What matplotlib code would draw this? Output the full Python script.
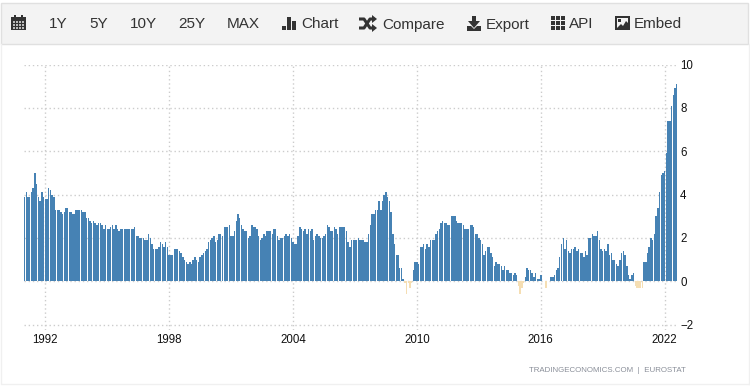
import matplotlib
matplotlib.use('Agg')
import matplotlib.pyplot as plt
import matplotlib.dates as mdates
from matplotlib.patches import Rectangle, Polygon
import numpy as np
import pandas as pd

vals_91_98 = [3.9,4.1,3.9,3.9,4.1,4.3,5.0,4.5,3.9,3.7,4.1,3.9,3.8,3.8,4.3,4.2,4.0,3.9,3.3,3.3,3.3,3.2,3.1,3.2,3.4,3.4,3.2,3.2,3.1,3.1,
              3.3,3.3,3.3,3.3,3.2,3.2,2.9,2.9,2.8,2.7,2.8,2.7,2.6,2.7,2.7,2.6,2.4,2.6,2.4,2.4,2.5,2.6,2.4,2.6,2.4,2.3,2.4,2.4,2.4,2.4,
              2.4,2.4,2.4,2.4,2.5,2.1,2.1,2.0,2.0,2.0,1.9,1.9,2.2,2.0,1.7,1.5,1.5,1.5,1.6,1.8,1.7,1.6,1.8,1.6,1.2,1.2,1.2,1.5,1.5,1.5,
              1.4,1.3,1.1,1.0]
vals_98_06 = [0.9,0.8,0.9,0.8,1.0,1.1,1.0,0.9,1.1,1.2,1.3,1.4,1.5,1.8,1.9,2.0,2.1,1.8,1.9,2.2,2.2,2.1,2.5,2.5,2.5,2.6,2.1,2.1,2.3,2.8,
              3.1,2.9,2.6,2.4,2.3,2.3,2.0,2.1,2.6,2.5,2.5,2.4,2.1,1.9,2.0,2.2,2.1,2.3,2.3,2.3,2.2,2.4,2.4,2.1,1.9,2.0,2.0,2.1,2.2,2.1,
              2.2,2.0,1.8,1.7,1.7,2.1,2.5,2.4,2.3,2.4,2.2,2.4,2.3,2.4,1.9,2.1,2.2,2.1,2.0,2.0,2.1,2.2,2.6,2.5,2.3,2.3,2.5,2.4,2.2,
              2.5,2.5,2.5,2.5,2.3,1.8,1.6]
vals_06_15 = [1.9,1.9,1.9,1.9,2.0,1.9,1.9,1.9,1.8,1.8,2.2,2.6,3.1,3.1,3.3,3.3,3.7,3.3,3.7,4.0,4.1,3.9,3.7,3.2,2.2,1.7,1.2,1.2,0.6,0.6,
              0.1,-0.1,-0.6,-0.1,-0.3,-0.1,0.5,0.9,0.9,0.8,1.6,1.6,1.7,1.5,1.7,1.6,1.9,1.9,1.9,2.2,2.3,2.4,2.7,2.8,2.7,2.7,2.6,2.6,3.0,3.0,
              3.0,2.8,2.7,2.7,2.7,2.6,2.4,2.4,2.4,2.6,2.6,2.5,2.2,2.2,2.0,1.9,1.7,1.2,1.4,1.6,1.6,1.3,1.1,0.7,0.9,0.8,0.8,0.7,0.5,0.7,
              0.5,0.5,0.4,0.4,0.3,0.4,0.3,-0.2,-0.6]
vals_15_22 = [-0.3,-0.1,0.2,0.6,0.5,0.5,0.4,0.2,0.4,0.1,0.1,0.3,0.0,0.0,-0.3,0.0,0.0,0.2,0.2,0.3,0.5,0.6,1.1,1.7,2.0,1.5,1.9,1.4,1.3,1.5,
              1.5,1.6,1.4,1.5,1.3,1.3,1.1,1.4,1.2,2.0,2.0,2.2,2.1,2.1,2.3,1.9,1.5,1.4,1.5,1.4,1.7,1.2,1.3,1.0,1.0,0.8,0.7,1.0,1.3,1.4,
              1.2,0.7,0.3,0.1,0.3,0.4,-0.2,-0.3,-0.3,-0.3,-0.3,0.9,0.9,1.3,1.6,2.0,1.9,2.2,3.0,3.4,4.1,4.9,5.0,5.1,5.9,7.4,7.4,8.1,8.6,8.9,9.1]
values = np.array(vals_91_98 + vals_98_06 + vals_06_15 + vals_15_22)

months = pd.date_range('1991-01-01', periods=len(values), freq='MS')
year_ticks = [1992, 1998, 2004, 2010, 2016, 2022]
y_ticks = [-2, 0, 2, 4, 6, 8, 10]
menu_labels = ['1Y', '5Y', '10Y', '25Y', 'MAX', 'Chart', 'Compare', 'Export', 'API', 'Embed']
menu_x = [49, 89, 130, 178, 227, 301, 382, 486, 569, 634]

plt.rcParams['font.family'] = ['Liberation Sans', 'DejaVu Sans']
W, H = 750, 386
fig = plt.figure(figsize=(7.5, 3.86), dpi=100)

ax = fig.add_axes([24 / W, (H - 330) / H, 654 / W, (330 - 64.5) / H])
colors = ['#4682b4' if v >= 0 else '#f5deb3' for v in values]
ax.bar(months, values, width=26, color=colors, linewidth=0, antialiased=False, zorder=3)
d0 = mdates.date2num(pd.Timestamp('1992-01-01'))
d1 = mdates.date2num(pd.Timestamp('2022-01-01'))
days_per_px = (d1 - d0) / (664.7 - 45.3)
ax.set_xlim(d0 - (45.3 - 24) * days_per_px, d0 + (678 - 45.3) * days_per_px)
ax.set_ylim(-2.25, 10)
ax.set_xticks([pd.Timestamp(str(y) + '-01-01') for y in year_ticks])
ax.set_xticklabels([str(y) for y in year_ticks])
ax.set_yticks(y_ticks)
ax.yaxis.tick_right()
ax.tick_params(axis='both', length=0, labelsize=8.3, colors='#111111')
ax.tick_params(axis='x', pad=3)
ax.tick_params(axis='y', pad=1.5)
ax.grid(True, linestyle=(0, (1, 2)), color='#cccccc', linewidth=1)
ax.set_axisbelow(True)
for s in ax.spines.values():
    s.set_visible(False)

# page furniture in pixel coordinates
top = fig.add_axes([0, 0, 1, 1], zorder=5)
top.set_xlim(0, W)
top.set_ylim(H, 0)
top.axis('off')
top.patch.set_alpha(0)
top.add_patch(Rectangle((1, 3), 747, 41, facecolor='#f3f3f3', edgecolor='#e0e0e0', linewidth=1))
top.plot([1, 1, 749], [44, 384, 384], color='#f0f0f0', linewidth=1)
top.plot([749, 749], [44, 384], color='#f0f0f0', linewidth=1)
for lab, x in zip(menu_labels, menu_x):
    top.text(x, 24.5, lab, fontsize=11, color='#333333', ha='left', va='center')
top.text(686, 370, 'TRADINGECONOMICS.COM  |  EUROSTAT', fontsize=5.7, color='#8a8f99', ha='right', va='center')

ic = '#333333'
# calendar
top.add_patch(Rectangle((11, 17), 15, 13, color=ic, linewidth=0))
top.add_patch(Rectangle((14, 15), 2, 3, color=ic, linewidth=0))
top.add_patch(Rectangle((21, 15), 2, 3, color=ic, linewidth=0))
for cx in [13, 16, 19, 22]:
    for cy in [21, 24, 27]:
        top.add_patch(Rectangle((cx, cy), 2, 2, color='#bbbbbb', linewidth=0))
# bars
for bx, by in [(282, 26), (287, 17), (292, 21)]:
    top.add_patch(Rectangle((bx, by), 4, 30 - by, color=ic, linewidth=0))
# shuffle
top.plot([359, 364, 370, 373], [19, 19, 28, 28], color=ic, linewidth=2.2, solid_capstyle='butt')
top.plot([359, 364, 370, 373], [28, 28, 19, 19], color=ic, linewidth=2.2, solid_capstyle='butt')
top.add_patch(Polygon([(372, 15), (377, 19), (372, 23)], color=ic, linewidth=0))
top.add_patch(Polygon([(372, 24), (377, 28), (372, 32)], color=ic, linewidth=0))
# export
top.add_patch(Rectangle((472, 16), 4, 6, color=ic, linewidth=0))
top.add_patch(Polygon([(468, 21), (480, 21), (474, 28)], color=ic, linewidth=0))
top.add_patch(Polygon([(467, 26), (471, 26), (474, 29), (477, 26), (481, 26), (481, 31), (467, 31)], color=ic, linewidth=0))
# api grid
for gx in [551, 556, 561]:
    for gy in [16, 21, 26]:
        top.add_patch(Rectangle((gx, gy), 4, 4, color=ic, linewidth=0))
# embed picture
top.add_patch(Rectangle((615, 16), 15, 14, color=ic, linewidth=0))
top.add_patch(Rectangle((617, 18), 11, 10, color='#f3f3f3', linewidth=0))
top.add_patch(Polygon([(617, 28), (621, 24), (623, 26), (626, 21), (628, 23), (628, 28)], color=ic, linewidth=0))
top.add_patch(Rectangle((618, 19), 3, 3, color=ic, linewidth=0))

fig.savefig('out.png', dpi=100)
